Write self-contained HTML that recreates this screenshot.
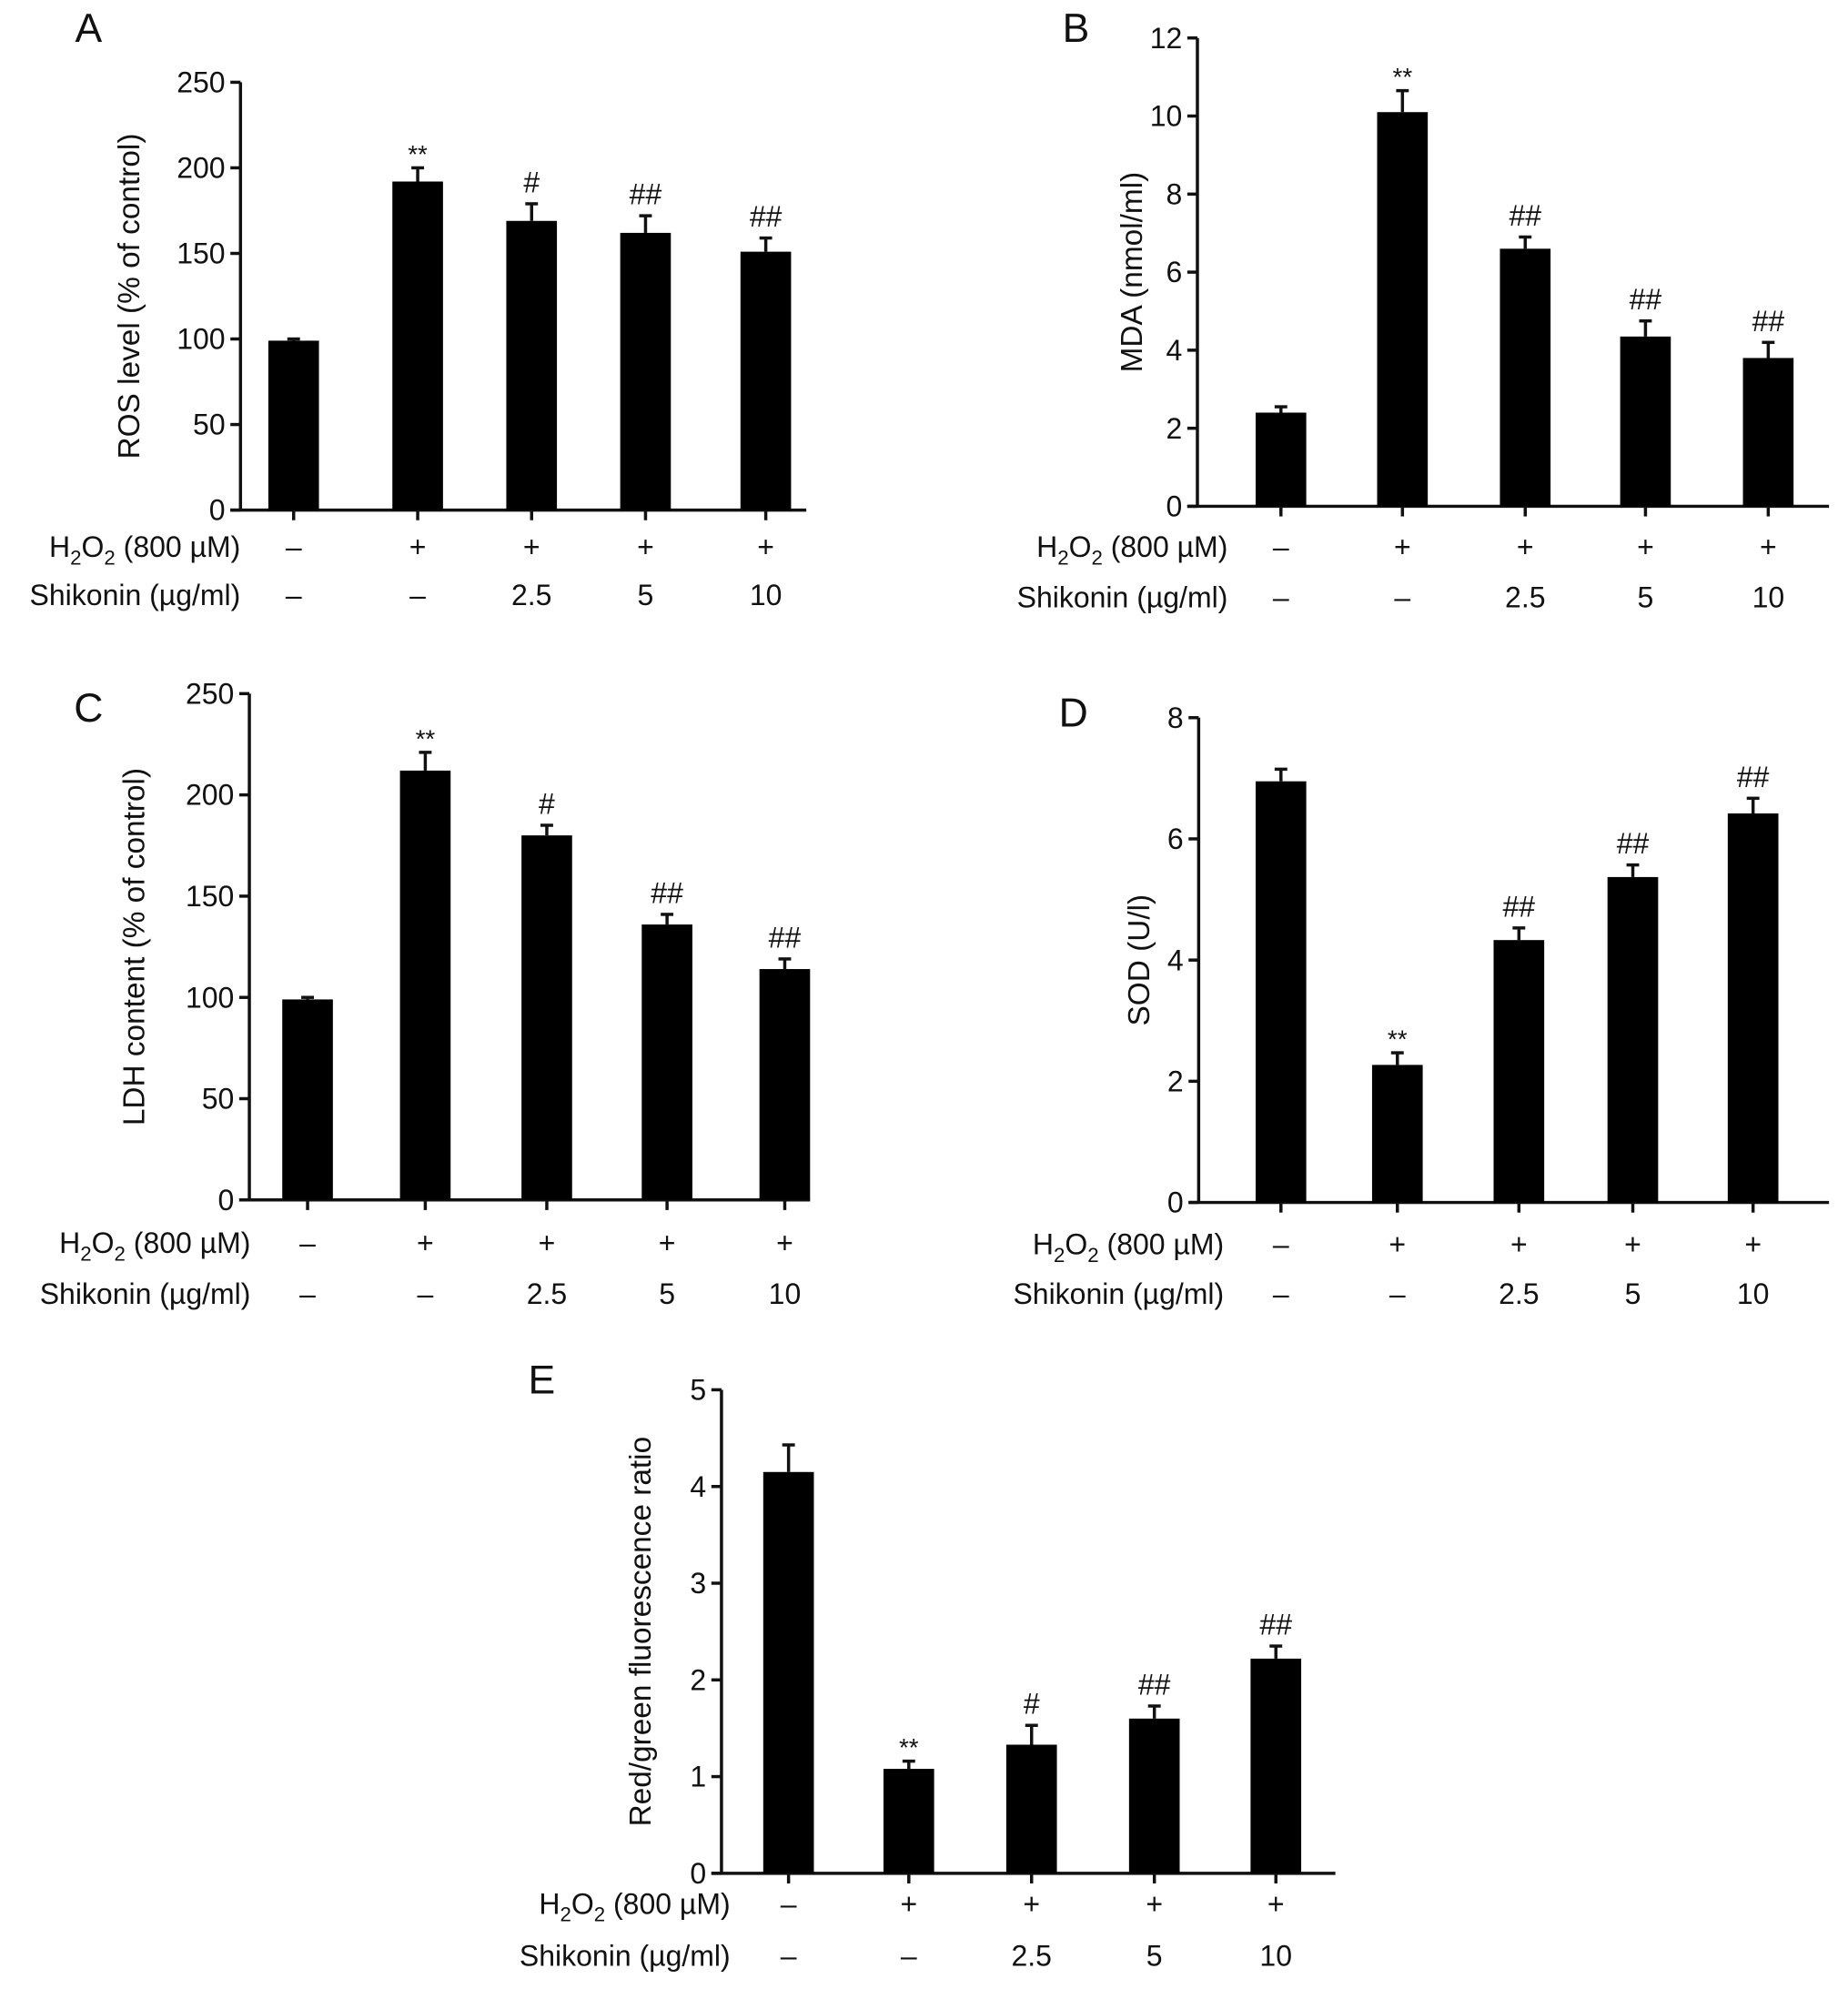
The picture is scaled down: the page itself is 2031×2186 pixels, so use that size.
<!DOCTYPE html>
<html><head><meta charset="utf-8"><style>
html,body{margin:0;padding:0;background:#fff}
svg{display:block}
text{font-family:"Liberation Sans",Arial,sans-serif;fill:#111}
</style></head><body>
<svg id="fig" width="2031" height="2186" viewBox="0 0 1460 1571.4" preserveAspectRatio="none" xmlns="http://www.w3.org/2000/svg"></svg>
<script>
const groups = ["ctrl","h2o2","shk2.5","shk5","shk10"];
const h2o2Labels = ["\u2013","+","+","+","+"];
const shkLabels = ["\u2013","\u2013","2.5","5","10"];

const aValues = [99,192,169,162,151];
const aErrors = [1,8,10,10,8];
const aSig = ["","**","#","##","##"];
const aTicks = [0,50,100,150,200,250];

const bValues = [2.4,10.1,6.6,4.35,3.8];
const bErrors = [0.15,0.55,0.3,0.4,0.4];
const bSig = ["","**","##","##","##"];
const bTicks = [0,2,4,6,8,10,12];

const cValues = [99,212,180,136,114];
const cErrors = [1,9,5,5,5];
const cSig = ["","**","#","##","##"];
const cTicks = [0,50,100,150,200,250];

const dValues = [6.95,2.27,4.33,5.37,6.42];
const dErrors = [0.2,0.2,0.2,0.2,0.25];
const dSig = ["","**","##","##","##"];
const dTicks = [0,2,4,6,8];

const eValues = [4.15,1.08,1.33,1.6,2.22];
const eErrors = [0.28,0.08,0.2,0.13,0.13];
const eSig = ["","**","#","##","##"];
const eTicks = [0,1,2,3,4,5];

const NS="http://www.w3.org/2000/svg";
const svg=document.getElementById('fig');
function mk(tag,attrs,parent){const e=document.createElementNS(NS,tag);for(const k in attrs)e.setAttribute(k,attrs[k]);(parent||svg).appendChild(e);return e;}

function panel(p){
  const g=mk('g',{});
  
  
  const ymax=p.ticks[p.ticks.length-1];
  const y=v=>p.y0-(v/ymax)*(p.y0-p.yTop);
  const lt=mk('text',{x:p.letter[0],y:p.letter[1],'font-size':32,'text-anchor':'middle'},g);
  lt.textContent=p.id;
  
  
  const ya=mk('line',{x1:p.ax,y1:p.yTop,x2:p.ax,y2:p.y0,stroke:'#111','stroke-width':2.5},g);
  
  
  const xa=mk('line',{x1:p.ax-8,y1:p.y0,x2:p.xEnd,y2:p.y0,stroke:'#111','stroke-width':2.5},g);
  
  
  p.ticks.forEach(t=>{
    mk('line',{x1:p.ax-8,y1:y(t),x2:p.ax,y2:y(t),stroke:'#111','stroke-width':2.5},g);
    const tl=mk('text',{x:p.ax-12,y:y(t)+8,'font-size':23,'text-anchor':'end'},g);
    tl.textContent=t;
    
    
  });
  const yt=mk('text',{x:0,y:0,'font-size':24,'text-anchor':'middle',transform:`translate(${p.titleX},${(p.yTop+p.y0)/2}) rotate(-90)`},g);
  yt.textContent=p.title;
  
  
  const bw=40;
  p.values.forEach((v,i)=>{
    const cx=p.cx[i];
    const top=y(v), et=y(v+p.errors[i]);
    mk('line',{x1:cx,y1:p.y0,x2:cx,y2:p.y0+8,stroke:'#111','stroke-width':2.5},g);
    mk('line',{x1:cx,y1:top,x2:cx,y2:et,stroke:'#111','stroke-width':2.5},g);
    mk('line',{x1:cx-5,y1:et,x2:cx+5,y2:et,stroke:'#111','stroke-width':2.5},g);
    const r=mk('rect',{x:cx-bw/2,y:top,width:bw,height:p.y0-top,fill:'#000'},g);
    
    
    if(p.sig[i]){
      const st=mk('text',{x:cx,y:et-(p.sig[i]==='**'?4:9),'font-size':p.sig[i]==='**'?20:23,'text-anchor':'middle'},g);
      st.textContent=p.sig[i];
      
      
    }
    const h=mk('text',{x:cx,y:p.row1+8,'font-size':23,'text-anchor':'middle'},g);
    h.textContent=h2o2Labels[i];
    const s=mk('text',{x:cx,y:p.row2+8,'font-size':23,'text-anchor':'middle'},g);
    s.textContent=shkLabels[i];
  });
  const hl=mk('text',{x:p.lblX,y:p.row1+8,'font-size':23,'text-anchor':'end'},g);
  hl.innerHTML='H<tspan font-size="16" dy="6">2</tspan><tspan dy="-6">O</tspan><tspan font-size="16" dy="6">2</tspan><tspan dy="-6"> (800 \u00b5M)</tspan>';
  
  
  const sl=mk('text',{x:p.lblX,y:p.row2+8,'font-size':23,'text-anchor':'end'},g);
  sl.textContent='Shikonin (\u00b5g/ml)';
  
  
}

panel({id:'A',values:aValues,errors:aErrors,sig:aSig,ticks:aTicks,ax:190,yTop:65,y0:403,xEnd:637,cx:[232,330,420,510,605],row1:432,row2:470,lblX:190,titleX:110,title:'ROS level (% of control)',letter:[70,33]});
panel({id:'B',values:bValues,errors:bErrors,sig:bSig,ticks:bTicks,ax:946,yTop:30,y0:400,xEnd:1445,cx:[1012,1108,1205,1300,1397],row1:432,row2:472,lblX:970,titleX:902,title:'MDA  (nmol/ml)',letter:[850,33]});
panel({id:'C',values:cValues,errors:cErrors,sig:cSig,ticks:cTicks,ax:197,yTop:548,y0:948,xEnd:640,cx:[243,336,432,527,620],row1:982,row2:1022,lblX:198,titleX:114,title:'LDH content (% of control)',letter:[70,570]});
panel({id:'D',values:dValues,errors:dErrors,sig:dSig,ticks:dTicks,ax:947,yTop:567,y0:950,xEnd:1445,cx:[1012,1104,1200,1290,1385],row1:983,row2:1022,lblX:967,titleX:908,title:'SOD (U/l)',letter:[848,574]});
panel({id:'E',values:eValues,errors:eErrors,sig:eSig,ticks:eTicks,ax:570,yTop:1098,y0:1480,xEnd:1055,cx:[623,718,815,912,1008],row1:1504,row2:1545,lblX:577,titleX:514,title:'Red/green fluorescence ratio',letter:[428,1101]});
</script>
</body></html>
